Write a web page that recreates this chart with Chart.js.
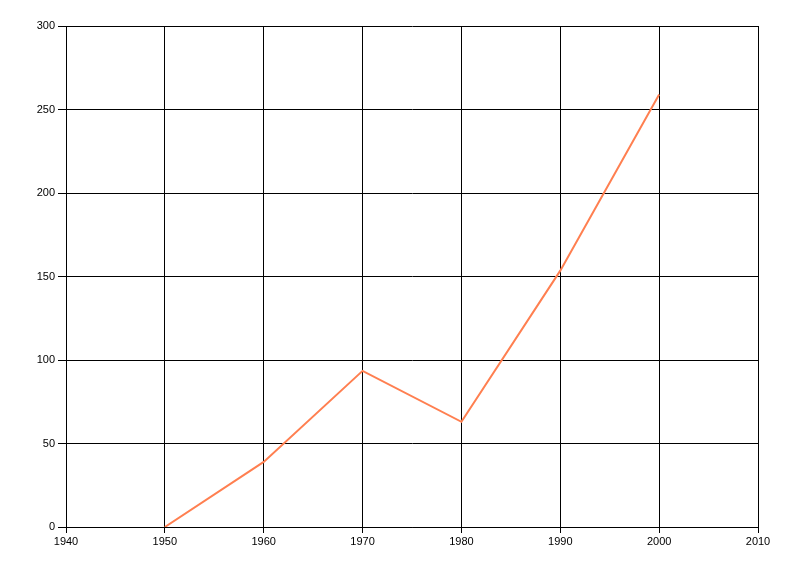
<!DOCTYPE html>
<html lang="en">
<head>
  <meta charset="UTF-8" />
  <title>Line Chart</title>
  <script src="https://cdn.jsdelivr.net/npm/chart.js"></script>
  <style>
    html, body {
      margin: 0;
      padding: 0;
      background: white;
    }
    canvas {
      display: block;
    }
  </style>
</head>
<body>
  <canvas id="lineChart" width="800" height="576"></canvas>

  <script>
    const years = [1950, 1960, 1970, 1980, 1990, 2000];
    const values = [0, 39, 93.5, 63, 153.5, 259];
    const xTicks = [1940, 1950, 1960, 1970, 1980, 1990, 2000, 2010];
    const yTicks = [0, 50, 100, 150, 200, 250, 300];

    const tickFont = { family: "'Liberation Sans', Arial, sans-serif", size: 11 };

    const ctx = document.getElementById('lineChart').getContext('2d');
    const lineChart = new Chart(ctx, {
      type: 'line',
      data: {
        datasets: [{
          data: years.map((y, i) => ({ x: y, y: values[i] })),
          borderColor: '#FF7F50',
          borderWidth: 2,
          pointRadius: 0,
          tension: 0,
          fill: false
        }]
      },
      options: {
        responsive: false,
        animation: false,
        devicePixelRatio: 1,
        layout: {
          padding: { top: 26, right: 42, left: 0, bottom: 0 }
        },
        plugins: {
          legend: { display: false },
          tooltip: { enabled: false }
        },
        scales: {
          x: {
            type: 'linear',
            min: xTicks[0],
            max: xTicks[xTicks.length - 1],
            afterBuildTicks: scale => {
              scale.ticks = xTicks.map(v => ({ value: v }));
            },
            afterFit: scale => { scale.height = 49; },
            ticks: {
              color: '#000',
              font: tickFont,
              padding: 2,
              maxRotation: 0,
              callback: v => String(v)
            },
            grid: {
              color: '#000',
              lineWidth: 1,
              tickLength: 6
            },
            border: { color: '#000', width: 1 }
          },
          y: {
            min: yTicks[0],
            max: yTicks[yTicks.length - 1],
            afterBuildTicks: scale => {
              scale.ticks = yTicks.map(v => ({ value: v }));
            },
            afterFit: scale => { scale.width = 66; },
            ticks: {
              color: '#000',
              font: tickFont,
              padding: 3
            },
            grid: {
              color: '#000',
              lineWidth: 1,
              tickLength: 8
            },
            border: { color: '#000', width: 1 }
          }
        }
      }
    });
  </script>
</body>
</html>
